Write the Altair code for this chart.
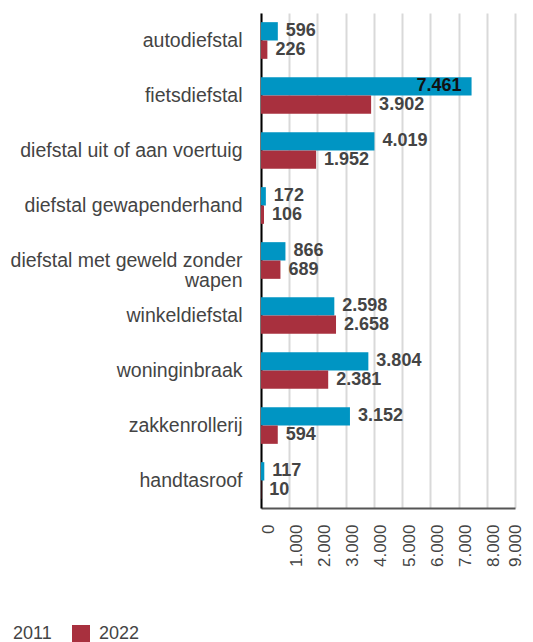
import altair as alt
import pandas as pd

categories = [
    "autodiefstal",
    "fietsdiefstal",
    "diefstal uit of aan voertuig",
    "diefstal gewapenderhand",
    "diefstal met geweld zonder wapen",
    "winkeldiefstal",
    "woninginbraak",
    "zakkenrollerij",
    "handtasroof",
]
values_2011 = [596, 7461, 4019, 172, 866, 2598, 3804, 3152, 117]
values_2022 = [226, 3902, 1952, 106, 689, 2658, 2381, 594, 10]
years = ["2011", "2022"]
colors = ["#0095c3", "#a8303e"]
x_ticks = [0, 1000, 2000, 3000, 4000, 5000, 6000, 7000, 8000, 9000]

rows = []
for c, a, b in zip(categories, values_2011, values_2022):
    rows.append({"cat": c, "year": "2011", "value": a})
    rows.append({"cat": c, "year": "2022", "value": b})
df = pd.DataFrame(rows)

fmt = "replace(format(datum.value, ','), ',', '.')"

y_enc = alt.Y(
    "cat:N",
    sort=categories,
    title=None,
    scale=alt.Scale(paddingInner=0.333, paddingOuter=0.1665),
    axis=alt.Axis(
        ticks=False,
        domainColor="#000000",
        domainWidth=2,
        labelFontSize=19.5,
        labelColor="#444444",
        labelFont="Liberation Sans",
        labelPadding=19,
        labelLineHeight=20,
        labelLimit=300,
        labelExpr="datum.label == 'diefstal met geweld zonder wapen' ? ['diefstal met geweld zonder', 'wapen'] : datum.label",
        grid=False,
    ),
)
x_enc = alt.X(
    "value:Q",
    scale=alt.Scale(domain=[0, 9000], nice=False),
    title=None,
    axis=alt.Axis(
        values=x_ticks,
        tickCount=10,
        labelExpr=fmt,
        labelAngle=270,
        labelAlign="right",
        labelBaseline="middle",
        labelOffset={"condition": {"test": "datum.value == 9000", "value": 0}, "value": 7},
        labelFontSize=17,
        labelColor="#444444",
        labelFont="Liberation Sans",
        labelPadding=16,
        labelOverlap=False,
        labelBound=False,
        ticks=False,
        domainColor="#555555",
        domainWidth=2,
        grid=True,
        gridColor="#d9d9d9",
        gridWidth=2,
    ),
)
yoff = alt.YOffset("year:N", scale=alt.Scale(domain=years, paddingInner=0, paddingOuter=0))

base = alt.Chart(df).encode(x=x_enc, y=y_enc, yOffset=yoff)

bars = base.mark_bar().encode(
    color=alt.Color(
        "year:N",
        scale=alt.Scale(domain=years, range=colors),
        legend=alt.Legend(
            title=None,
            orient="none",
            direction="horizontal",
            legendX=-275,
            legendY=612,
            symbolType="square",
            symbolSize=324,
            symbolStrokeWidth=0,
            symbolOpacity=1,
            labelFontSize=18,
            labelColor="#444444",
            labelFont="Liberation Sans",
            labelOffset=9,
            columnPadding=20,
            padding=0,
        ),
    ),
)

labels_out = base.transform_filter("datum.value < 6000").transform_calculate(
    lbl=fmt
).mark_text(
    align="left", baseline="middle", dx=8, fontSize=18, fontWeight="bold",
    font="Liberation Sans", color="#444444"
).encode(text="lbl:N")

labels_in = base.transform_filter("datum.value >= 6000").transform_calculate(
    lbl=fmt
).mark_text(
    align="right", baseline="middle", dx=-10, fontSize=18, fontWeight="bold",
    font="Liberation Sans", color="#111111"
).encode(text="lbl:N")

chart = (
    alt.layer(bars, labels_out, labels_in)
    .properties(
        width=254,
        height=495,
        autosize=alt.AutoSizeParams(type="none"),
        padding={"left": 253, "top": 5, "right": 10, "bottom": 140},
    )
    .configure_view(stroke=None)
)

chart.save("out.html", embed_options={"renderer": "svg", "actions": False})
